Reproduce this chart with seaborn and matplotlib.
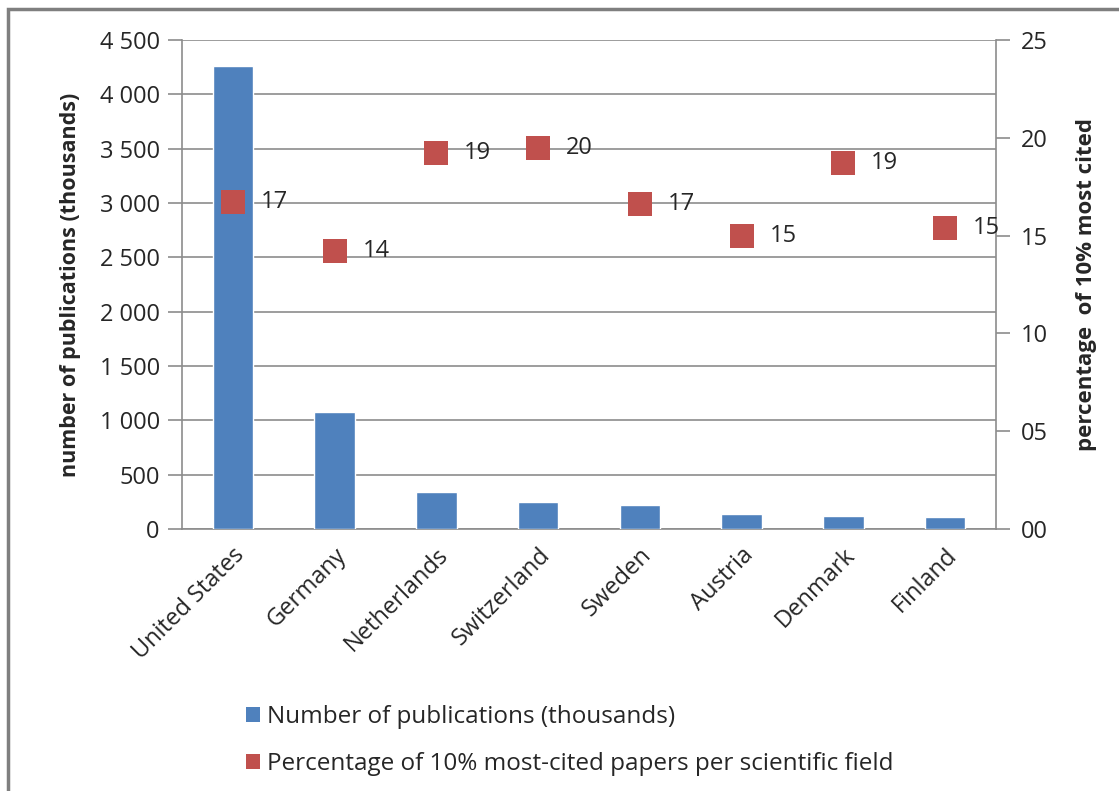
import numpy as np
import pandas as pd
import matplotlib
matplotlib.use('Agg')
import matplotlib.pyplot as plt
import seaborn as sns
from matplotlib.patches import Rectangle, Patch
from matplotlib.ticker import FuncFormatter, MultipleLocator

# Datele graficului
countries = ['United States', 'Germany', 'Netherlands', 'Switzerland',
             'Sweden', 'Austria', 'Denmark', 'Finland']
publications = [4260, 1075, 340, 248, 221, 138, 120, 110]
pct_cited = [16.7, 14.2, 19.2, 19.5, 16.6, 15.0, 18.7, 15.4]
pct_labels = ['17', '14', '19', '20', '17', '15', '19', '15']

legend_bar = 'Number of publications (thousands)'
legend_pct = 'Percentage of 10% most-cited papers per scientific field'

blue = '#4F81BD'
red = '#C0504D'
grid_col = '#8C8C8C'

sns.set_style('white')
plt.rcParams['font.family'] = ['Open Sans', 'DejaVu Sans']

df = pd.DataFrame({'country': countries, 'pub': publications, 'pct': pct_cited})

fig = plt.figure(figsize=(11.19, 7.91), dpi=100)
ax = fig.add_axes([182 / 1119, 1 - 529 / 791, (996 - 182) / 1119, (529 - 40) / 791])

sns.barplot(data=df, x='country', y='pub', color=blue, width=0.4,
            saturation=1, ax=ax, zorder=3)
ax.set_ylim(0, 4500)
ax.set_xlim(-0.5, len(countries) - 0.5)
ax.yaxis.set_major_locator(MultipleLocator(500))
ax.yaxis.set_major_formatter(FuncFormatter(lambda v, p: f'{int(v):,}'.replace(',', ' ')))
ax.grid(axis='y', color=grid_col, linewidth=1.2, zorder=0)
ax.set_axisbelow(True)
ax.set_xlabel('')
ax.set_ylabel('number of publications (thousands)', fontsize=15.5, fontweight='bold',
              labelpad=13)

# ticks intre categorii, ca in Excel
ax.set_xticks(np.arange(len(countries)))
ax.set_xticklabels(countries, rotation=45, ha='right', rotation_mode='anchor', fontsize=17)
ax.set_xticks(np.arange(len(countries) + 1) - 0.5, minor=True)
ax.tick_params(axis='x', which='major', length=0, pad=10)
ax.tick_params(axis='x', which='minor', length=10, color=grid_col, width=1.2, direction='out')
ax.tick_params(axis='y', length=10, color=grid_col, width=1.2, labelsize=17, pad=6,
               direction='out')
for side in ['top', 'right']:
    ax.spines[side].set_visible(False)
for side in ['left', 'bottom']:
    ax.spines[side].set_color(grid_col)
    ax.spines[side].set_linewidth(1.2)

# axa secundara
ax2 = ax.twinx()
sns.scatterplot(x=np.arange(len(countries)), y=df['pct'], marker='s', s=300,
                color=red, edgecolor='none', ax=ax2, zorder=5, legend=False)
ax2.set_ylim(0, 25)
ax2.yaxis.set_major_locator(MultipleLocator(5))
ax2.yaxis.set_major_formatter(FuncFormatter(lambda v, p: f'{int(v):02d}'))
ax2.tick_params(axis='y', length=10, color=grid_col, width=1.2, labelsize=17, pad=8,
                direction='out')
ax2.set_ylabel('percentage  of 10% most cited', fontsize=16, fontweight='bold',
               labelpad=20)
for side in ['top', 'left', 'bottom']:
    ax2.spines[side].set_visible(False)
ax2.spines['right'].set_color(grid_col)
ax2.spines['right'].set_linewidth(1.2)

for i, (v, lab) in enumerate(zip(pct_cited, pct_labels)):
    ax2.annotate(lab, (i, v), xytext=(20, 0), textcoords='offset points',
                 va='center', ha='left', fontsize=17, zorder=6)

# legenda
handles = [Patch(facecolor=blue, edgecolor='none'),
           Patch(facecolor=red, edgecolor='none')]
fig.legend(handles, [legend_bar, legend_pct], loc='upper left',
           bbox_to_anchor=(224 / 1119, 1 - 683 / 791), frameon=False,
           fontsize=17.5, handlelength=0.6, handleheight=0.6, handletextpad=0.25,
           labelspacing=0.95)

# chenar exterior
fig.patches.append(Rectangle((8 / 1119, -0.05), 1.1, 1 - 9 / 791 + 0.05,
                             transform=fig.transFigure, fill=False,
                             edgecolor='#7F7F7F', linewidth=2.5))

fig.savefig('out.png', dpi=100)
plt.close(fig)
